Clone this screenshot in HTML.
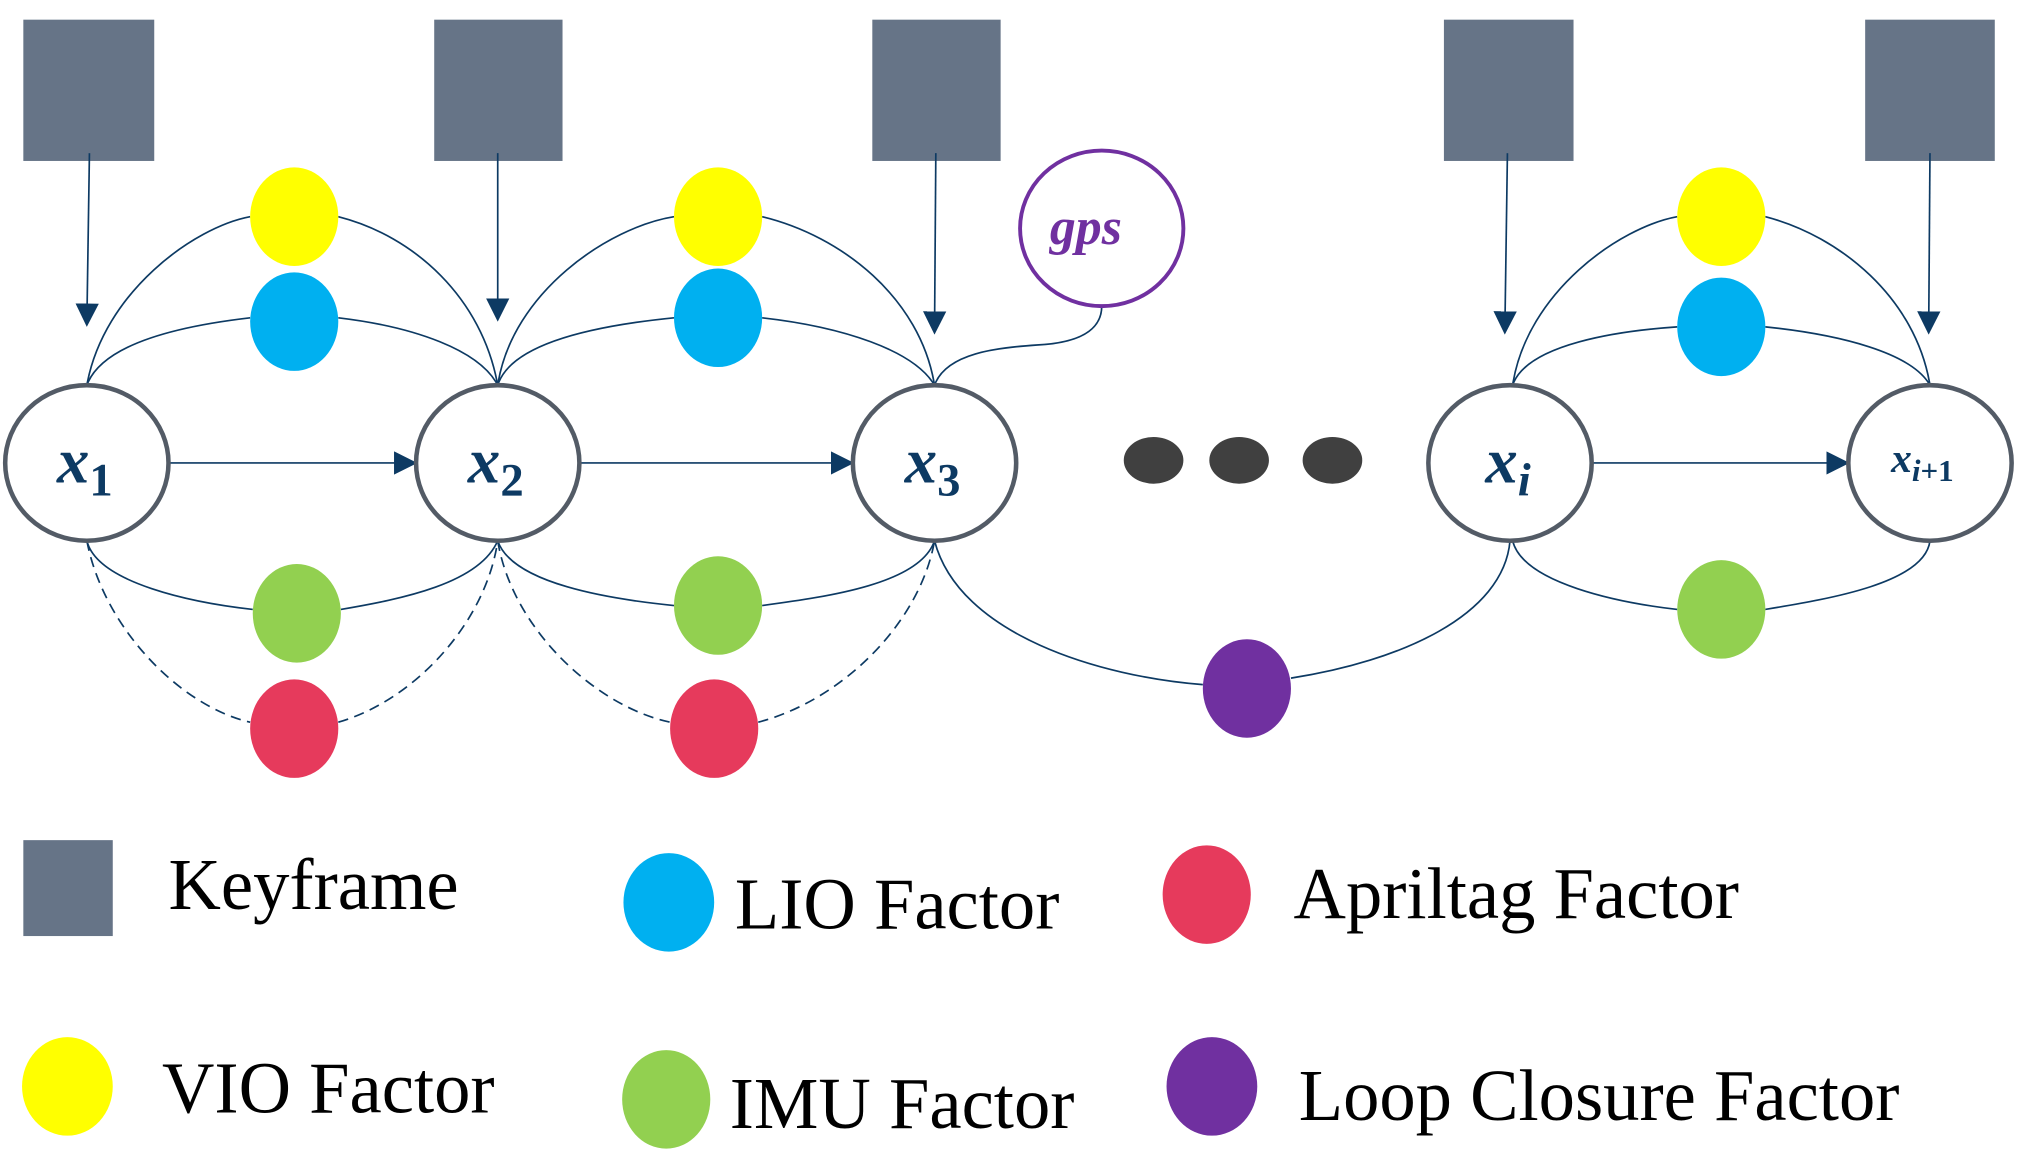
<!DOCTYPE html>
<html><head><meta charset="utf-8"><style>
html,body{margin:0;padding:0;background:#fff;}
svg{display:block;}
</style></head><body>
<svg width="2022" height="1167" viewBox="0 0 1560 900" xmlns="http://www.w3.org/2000/svg">
<defs>
<marker id="ahd" markerWidth="18" markerHeight="18" refX="16" refY="9" orient="auto" markerUnits="userSpaceOnUse" viewBox="0 0 18 18">
<path d="M0,0 L18,9 L0,18 z" fill="#0d3a63"/></marker>
</defs>
<g fill="#667487">
<rect x="18" y="15" width="101" height="109"/>
<rect x="335" y="15" width="99" height="109"/>
<rect x="673" y="15" width="99" height="109"/>
<rect x="1114" y="15" width="100" height="109"/>
<rect x="1439" y="15" width="100" height="109"/>
</g>
<g stroke="#0d3a63" stroke-width="1.3" fill="none">
<line x1="69" y1="118" x2="67" y2="250" marker-end="url(#ahd)"/>
<line x1="384" y1="118" x2="384" y2="246" marker-end="url(#ahd)"/>
<line x1="722" y1="118" x2="721" y2="256" marker-end="url(#ahd)"/>
<line x1="1163" y1="118" x2="1161" y2="256" marker-end="url(#ahd)"/>
<line x1="1489" y1="118" x2="1488" y2="256" marker-end="url(#ahd)"/>
<line x1="130" y1="357" x2="320" y2="357" marker-end="url(#ahd)"/>
<line x1="447" y1="357" x2="657" y2="357" marker-end="url(#ahd)"/>
<line x1="1228" y1="357" x2="1425" y2="357" marker-end="url(#ahd)"/>
<path d="M67,297 C80,225 150,175 193,167"/><path d="M261,167 C320,182 372,230 384,297"/>
<path d="M67,297 C80,262 150,250 193,245"/><path d="M261,245 C320,252 370,270 384,297"/>
<path d="M384,297 C395,225 470,175 520,167"/><path d="M588,167 C650,182 710,230 721,297"/>
<path d="M384,297 C395,262 470,250 520,245"/><path d="M588,245 C650,252 705,270 721,297"/>
<path d="M1167,297 C1178,225 1250,175 1294,167"/><path d="M1362,167 C1420,182 1478,230 1489,297"/>
<path d="M1167,297 C1178,265 1250,255 1294,252"/><path d="M1362,252 C1420,258 1475,272 1489,297"/>
<path d="M67,417 C75,450 150,465 195,470"/><path d="M263,470 C310,462 370,450 384,417"/>
<path d="M384,417 C395,450 470,462 520,467"/><path d="M588,467 C640,460 710,450 721,417"/>
<path d="M1167,417 C1175,450 1250,465 1294,470"/><path d="M1362,470 C1410,462 1485,450 1489,417"/>
<path d="M721,417 C740,490 850,522 928,528"/><path d="M996,523 C1080,510 1160,475 1165,417"/>
<path d="M721,297 C730,272 770,268 800,266 C840,264 850,250 850,236"/>
</g>
<g stroke="#0d3a63" stroke-width="1.3" fill="none" stroke-dasharray="8,5">
<path d="M67,417 C80,485 140,545 193,557"/><path d="M261,557 C320,540 375,480 384,417"/>
<path d="M384,417 C395,485 460,545 517,557"/><path d="M585,557 C650,540 710,480 721,417"/>
</g>
<g>
<ellipse cx="227" cy="167" rx="34" ry="38" fill="#ffff00"/>
<ellipse cx="554" cy="167" rx="34" ry="38" fill="#ffff00"/>
<ellipse cx="1328" cy="167" rx="34" ry="38" fill="#ffff00"/>
<ellipse cx="227" cy="248" rx="34" ry="38" fill="#00b0f0"/>
<ellipse cx="554" cy="245" rx="34" ry="38" fill="#00b0f0"/>
<ellipse cx="1328" cy="252" rx="34" ry="38" fill="#00b0f0"/>
<ellipse cx="229" cy="473" rx="34" ry="38" fill="#92d050"/>
<ellipse cx="554" cy="467" rx="34" ry="38" fill="#92d050"/>
<ellipse cx="1328" cy="470" rx="34" ry="38" fill="#92d050"/>
<ellipse cx="227" cy="562" rx="34" ry="38" fill="#e63a5c"/>
<ellipse cx="551" cy="562" rx="34" ry="38" fill="#e63a5c"/>
<ellipse cx="962" cy="531" rx="34" ry="38" fill="#7030a0"/>
<ellipse cx="890" cy="355" rx="23" ry="18" fill="#404040"/>
<ellipse cx="956" cy="355" rx="23" ry="18" fill="#404040"/>
<ellipse cx="1028" cy="355" rx="23" ry="18" fill="#404040"/>
</g>
<g fill="#fff" stroke="#535b66" stroke-width="3.5">
<ellipse cx="67" cy="357" rx="63" ry="60"/>
<ellipse cx="384" cy="357" rx="63" ry="60"/>
<ellipse cx="721" cy="357" rx="63" ry="60"/>
<ellipse cx="1165" cy="357" rx="63" ry="60"/>
<ellipse cx="1489" cy="357" rx="63" ry="60"/>
</g>
<ellipse cx="850" cy="176" rx="63" ry="60" fill="#fff" stroke="#7030a0" stroke-width="3"/>
<g font-family="'Liberation Serif',serif" fill="#0d3a63" font-weight="bold">
<text x="44" y="372" font-size="50" font-style="italic">x<tspan font-size="36" font-style="normal" dy="10">1</tspan></text>
<text x="361" y="372" font-size="50" font-style="italic">x<tspan font-size="36" font-style="normal" dy="10">2</tspan></text>
<text x="698" y="372" font-size="50" font-style="italic">x<tspan font-size="36" font-style="normal" dy="10">3</tspan></text>
<text x="1146" y="372" font-size="50" font-style="italic">x<tspan font-size="36" dy="10">i</tspan></text>
<text x="1459" y="364" font-size="32" font-style="italic">x<tspan font-size="24" dy="7">i</tspan><tspan font-size="24" font-style="normal">+1</tspan></text>
<text x="810" y="188" font-size="40" font-style="italic" fill="#7030a0">gps</text>
</g>
<rect x="18" y="648" width="69" height="74" fill="#667487"/>
<ellipse cx="516" cy="696" rx="35" ry="38" fill="#00b0f0"/>
<ellipse cx="931" cy="690" rx="34" ry="38" fill="#e63a5c"/>
<ellipse cx="52" cy="838" rx="35" ry="38" fill="#ffff00"/>
<ellipse cx="514" cy="848" rx="34" ry="38" fill="#92d050"/>
<ellipse cx="935" cy="838" rx="35" ry="38" fill="#7030a0"/>
<g font-family="'Liberation Serif',serif" font-size="56" fill="#000">
<text x="130" y="701">Keyframe</text>
<text x="567" y="716">LIO Factor</text>
<text x="998" y="708">Apriltag Factor</text>
<text x="125" y="858">VIO Factor</text>
<text x="563" y="870">IMU Factor</text>
<text x="1002" y="864">Loop Closure Factor</text>
</g>
</svg>
</body></html>
